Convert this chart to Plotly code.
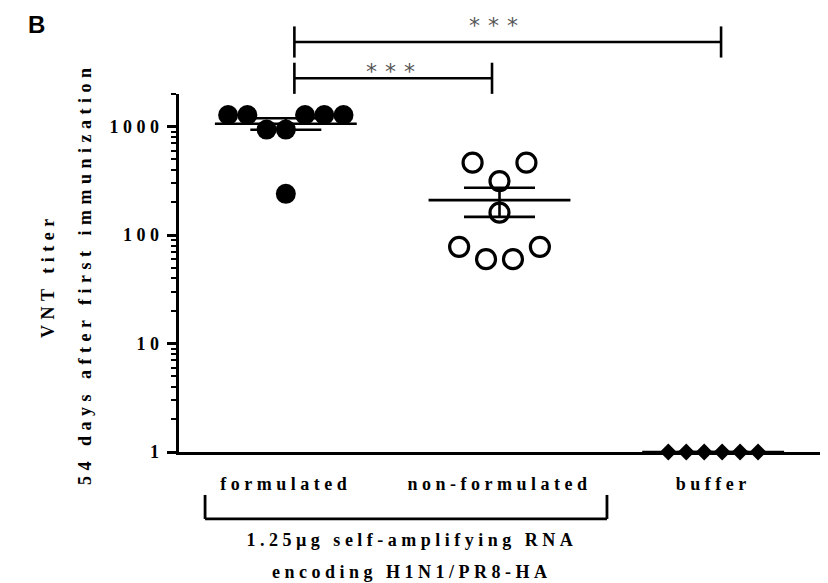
import numpy as np
import plotly.graph_objects as go

# ---- data -------------------------------------------------------------
categories = ["formulated", "non-formulated", "buffer"]
formulated = [1280, 1280, 1280, 1280, 1280, 940, 940, 240]
non_formulated = [465, 465, 315, 161, 78, 78, 60, 60]
buffer_vals = [1, 1, 1, 1, 1, 1]
y_tickvals = [1, 10, 100, 1000]
y_ticktext = ["1", "10", "100", "1000"]
y_title_1 = "VNT titer"
y_title_2 = "54 days after first immunization"
group_line_1 = "1.25µg self-amplifying RNA"
group_line_2 = "encoding H1N1/PR8-HA"
sig_label = "***"

# ---- layout helpers ---------------------------------------------------
# horizontal scatter slots (beeswarm-style spread) and slot widths, in x units
slots = {
    "formulated": ([-3, -2, 1, 2, 3, -1, 0, 0], 0.09),
    "non-formulated": ([-2, 2, 0, 0, -3, 3, -1, 1], 0.063),
    "buffer": ([-2.5, -1.5, -0.5, 0.5, 1.5, 2.5], 0.084),
}
MEAN_HALF = 0.332      # half width of the mean bar (x units)
SEM_CAP_PX = 35.5      # half width of the SEM caps (px)

SERIF = "Liberation Serif, Times New Roman, serif"
BLACK = "black"

groups = [
    ("formulated", formulated, dict(symbol="circle", size=20, color=BLACK, line=dict(width=0))),
    ("non-formulated", non_formulated, dict(symbol="circle-open", size=19, color=BLACK, line=dict(width=3.2, color=BLACK))),
    ("buffer", buffer_vals, dict(symbol="diamond", size=13, color=BLACK, line=dict(width=0))),
]

fig = go.Figure()

# individual animals
for gi, (name, vals, marker) in enumerate(groups):
    sl, step = slots[name]
    xs = [gi + s * step for s in sl]
    fig.add_trace(go.Scatter(x=xs, y=vals, mode="markers", marker=marker,
                             cliponaxis=False, hoverinfo="skip"))

# mean +/- SEM
for gi, (name, vals, _) in enumerate(groups):
    arr = np.array(vals, dtype=float)
    mean = arr.mean()
    sem = arr.std(ddof=1) / np.sqrt(len(arr))
    fig.add_trace(go.Scatter(x=[gi - MEAN_HALF, gi + MEAN_HALF], y=[mean, mean],
                             mode="lines", line=dict(color=BLACK, width=2.6),
                             cliponaxis=False, hoverinfo="skip"))
    fig.add_trace(go.Scatter(x=[gi], y=[mean], mode="markers",
                             marker=dict(size=1, color="rgba(0,0,0,0)"),
                             error_y=dict(type="data", array=[sem], visible=True,
                                          color=BLACK, thickness=2.6, width=SEM_CAP_PX),
                             cliponaxis=False, hoverinfo="skip"))

# minor ticks on the log axis: 2..9 of every decade
minor_vals = [k * 10 ** d for d in range(0, 4) for k in range(2, 10) if k * 10 ** d <= 2000]

tick_font = dict(family=SERIF, size=18, color=BLACK, weight="bold")

fig.update_layout(
    width=828, height=583,
    margin=dict(l=179, r=8, t=94, b=131),
    paper_bgcolor="white", plot_bgcolor="white",
    showlegend=False,
    xaxis=dict(range=[-0.5, 2.5], showgrid=False, zeroline=False,
               showline=True, linewidth=3, linecolor=BLACK,
               ticks="", tickvals=[0, 1, 2], ticktext=categories,
               tickfont=tick_font, ticklabelstandoff=13),
    yaxis=dict(type="log", range=[0, np.log10(2000)], showgrid=False, zeroline=False,
               showline=True, linewidth=3, linecolor=BLACK,
               ticks="outside", ticklen=9, tickwidth=2.5, tickcolor=BLACK,
               tickvals=y_tickvals, ticktext=y_ticktext, tickfont=tick_font,
               minor=dict(ticks="outside", ticklen=5, tickwidth=2, tickcolor=BLACK,
                          tickvals=minor_vals, showgrid=False)),
)

# significance brackets: (x0, x1, line y in paper units)
brackets = [(0.04, 2.037, 1.1453), (0.04, 0.965, 1.0439)]
TICK_HALF = 0.0435
for x0, x1, yl in brackets:
    fig.add_shape(type="line", xref="x", yref="paper", x0=x0, x1=x1, y0=yl, y1=yl,
                  line=dict(color=BLACK, width=2.6))
    for xe in (x0, x1):
        fig.add_shape(type="line", xref="x", yref="paper", x0=xe, x1=xe,
                      y0=yl - TICK_HALF, y1=yl + TICK_HALF, line=dict(color=BLACK, width=2.6))

# group bracket under the first two categories
gb_x0, gb_x1, gb_y, gb_top = -0.378, 1.503, -0.187, -0.12
fig.add_shape(type="line", xref="x", yref="paper", x0=gb_x0, x1=gb_x1, y0=gb_y, y1=gb_y,
              line=dict(color=BLACK, width=2.8))
for xe in (gb_x0, gb_x1):
    fig.add_shape(type="line", xref="x", yref="paper", x0=xe, x1=xe, y0=gb_y, y1=gb_top,
                  line=dict(color=BLACK, width=2.8))

text_font = dict(family=SERIF, size=18, color=BLACK, weight="bold")
star_font = dict(family="DejaVu Sans", size=22, color="#555555")
centered = dict(showarrow=False, xanchor="center", yanchor="middle")

# 0: panel letter
fig.add_annotation(text="B", xref="paper", yref="paper", x=-0.223, y=1.1955,
                   font=dict(family="Liberation Sans", size=24, color=BLACK, weight="bold"), **centered)
# 1, 2: y-axis title lines
fig.add_annotation(text=y_title_1, xref="paper", yref="paper", x=-0.2044, y=0.494,
                   textangle=-90, font=text_font, **centered)
fig.add_annotation(text=y_title_2, xref="paper", yref="paper", x=-0.1466, y=0.497,
                   textangle=-90, font=text_font, **centered)
# 3, 4: group caption
fig.add_annotation(text=group_line_1, xref="paper", yref="paper", x=0.363, y=-0.2458,
                   font=text_font, **centered)
fig.add_annotation(text=group_line_2, xref="paper", yref="paper", x=0.363, y=-0.3344,
                   font=text_font, **centered)
# 5, 6: significance stars
fig.add_annotation(text=sig_label, xref="x", yref="paper", x=0.99, y=1.1927,
                   font=star_font, **centered)
fig.add_annotation(text=sig_label, xref="x", yref="paper", x=0.51, y=1.0623,
                   font=star_font, **centered)

# letter-spaced typography
css = (
    ".xtick text, .ytick text { letter-spacing: 4.5px; }"
    "g.annotation[data-index='1'] text, g.annotation[data-index='2'] text { letter-spacing: 5.5px; }"
    "g.annotation[data-index='3'] text, g.annotation[data-index='4'] text { letter-spacing: 4.5px; }"
    "g.annotation[data-index='5'] text, g.annotation[data-index='6'] text { letter-spacing: 8px; }"
)
post = ("var s=document.createElement('style');s.textContent=" + repr(css) +
        ";document.head.appendChild(s);")

fig.write_html("out.html", post_script=post)
